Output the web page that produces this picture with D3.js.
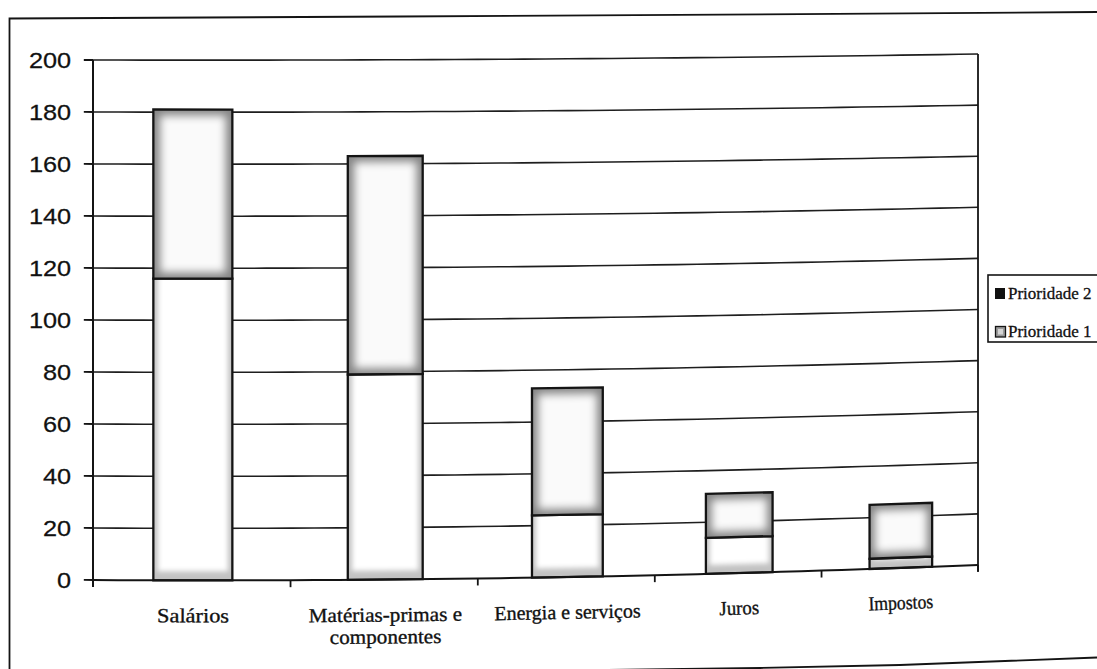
<!DOCTYPE html>
<html>
<head>
<meta charset="utf-8">
<script src="https://cdn.jsdelivr.net/npm/d3@7"></script>
<style>
  body { margin: 0; background: #fff; }
  svg { display: block; }
</style>
</head>
<body>
<svg id="chart" width="1097" height="669"></svg>
<script>
// Cost items, in the order shown on the category axis ("\n" marks a line break)
const categories = ["Salários", "Matérias-primas e\ncomponentes", "Energia e serviços", "Juros", "Impostos"];
// Number of answers per priority (stacked: Prioridade 1 at the bottom)
const prioridade1 = [116, 79, 24, 14, 4];
const prioridade2 = [65, 84, 49, 17, 21];
const legendNames = ["Prioridade 2", "Prioridade 1"];
const yTicks = [0, 20, 40, 60, 80, 100, 120, 140, 160, 180, 200];

const svg = d3.select("#chart");
const ink = "#141414";

// Plot frame in page coordinates
const plot = { left: 93, top: 60, width: 885, height: 520 };

// The printed page is slightly curled: columns get narrower towards the right
// and the horizontal rules rise gently. warp() maps flat chart coordinates to the page.
function warpX(xf) {
  const t = xf / plot.width;
  return plot.left + plot.width * (1.145 * t - 0.145 * t * t);
}
function slopeX(xf) {
  const t = xf / plot.width;
  return 1.145 - 0.29 * t;
}
function bend(X) {
  const u = X - plot.left;
  return 0.00604 * u - 2.6e-5 * u * u;
}
function P(xf, yf) {
  const X = warpX(xf);
  const v = yf / plot.height;
  return [X, plot.top + yf + (0.4 + 0.6 * v) * bend(X)];
}
function poly(pts) {
  return "M" + pts.map(p => p[0].toFixed(2) + "," + p[1].toFixed(2)).join("L") + "Z";
}
function quad(x0, x1, y0, y1) {
  return poly([P(x0, y0), P(x1, y0), P(x1, y1), P(x0, y1)]);
}
const curve = d3.line().x(d => d[0]).y(d => d[1]);
function hline(yf, x0, x1) {
  const n = 40, pts = [];
  for (let i = 0; i <= n; i++) pts.push(P(x0 + (x1 - x0) * i / n, yf));
  return curve(pts);
}
// Angle of the page's horizontal direction at a given flat point
function tiltAt(xf, yf) {
  const a = P(xf - 2, yf), b = P(xf + 2, yf);
  return Math.atan2(b[1] - a[1], b[0] - a[0]) * 180 / Math.PI;
}

const x = d3.scaleBand()
  .domain(categories)
  .range([0, plot.width])
  .paddingInner(0.6)
  .paddingOuter(0.3);

const y = d3.scaleLinear().domain([0, 200]).range([plot.height, 0]);

const table = categories.map((c, i) => ({ cat: c, p1: prioridade1[i], p2: prioridade2[i] }));
const stacked = d3.stack().keys(["p1", "p2"])(table);

const defs = svg.append("defs");
function blurFilter(id, sd) {
  defs.append("filter").attr("id", id)
    .attr("filterUnits", "userSpaceOnUse")
    .attr("x", 0).attr("y", 0).attr("width", 1097).attr("height", 669)
    .append("feGaussianBlur").attr("stdDeviation", sd);
}
blurFilter("soft", 4.5);
blurFilter("softSmall", 2.5);

// Outer frame of the figure
svg.append("path")
  .attr("d", "M9.5,676 L9.5,18.5 L400,16.5 L800,14.2 L1097,12")
  .attr("fill", "none").attr("stroke", ink).attr("stroke-width", 1.8);
svg.append("path")
  .attr("d", "M520,671 L760,668 L900,665 L1097,657.5")
  .attr("fill", "none").attr("stroke", ink).attr("stroke-width", 1.8);

const g = svg.append("g");

// Horizontal gridlines
g.selectAll(".grid")
  .data(yTicks.filter(v => v > 0))
  .join("path")
  .attr("class", "grid")
  .attr("d", v => hline(y(v), 0, plot.width))
  .attr("fill", "none")
  .attr("stroke", "#1e1e1e")
  .attr("stroke-width", 1.6);

// Right edge of the plot area
g.append("path")
  .attr("d", curve([P(plot.width, 0), P(plot.width, plot.height + 7)]))
  .attr("stroke", ink).attr("stroke-width", 1.8).attr("fill", "none");

// Stacked bars
let clipN = 0;
stacked.forEach((layer, li) => {
  layer.forEach((d, ci) => {
    const x0 = x(d.data.cat), x1 = x0 + x.bandwidth();
    const yTop = y(d[1]), yBot = y(d[0]);
    const shape = quad(x0, x1, yTop, yBot);
    const id = "seg" + (clipN++);
    defs.append("clipPath").attr("id", id).append("path").attr("d", shape);
    const seg = g.append("g").attr("clip-path", `url(#${id})`);
    if (li === 1) {
      // Prioridade 2: grey screen that lightens towards the middle
      seg.append("path").attr("d", shape).attr("fill", "#858585");
      seg.append("path").attr("d", quad(x0 + 6, x1 - 6, yTop + 6, yBot - 6))
        .attr("fill", "#fafafa").attr("filter", "url(#soft)");
    } else {
      // Prioridade 1: white with a light grey fringe at its foot
      seg.append("path").attr("d", shape).attr("fill", "#c2c2c2");
      seg.append("path").attr("d", quad(x0 + 4, x1 - 4, yTop - 30, yBot - 9))
        .attr("fill", "#ffffff").attr("filter", "url(#softSmall)");
    }
    g.append("path").attr("d", shape)
      .attr("fill", "none").attr("stroke", ink).attr("stroke-width", 2.3)
      .attr("stroke-linejoin", "miter");
  });
});

// Category axis with its tick marks between groups
g.append("path")
  .attr("d", hline(plot.height, 0, plot.width))
  .attr("fill", "none").attr("stroke", ink).attr("stroke-width", 2);
const bounds = d3.range(categories.length + 1).map(k => k * x.step());
g.selectAll(".xtick")
  .data(bounds)
  .join("path")
  .attr("class", "xtick")
  .attr("d", b => curve([P(b, plot.height), P(b, plot.height + 7)]))
  .attr("stroke", ink).attr("stroke-width", 1.8);

// Value axis
g.append("path")
  .attr("d", curve([P(0, 0), P(0, plot.height + 7)]))
  .attr("stroke", ink).attr("stroke-width", 2).attr("fill", "none");
g.selectAll(".ytick")
  .data(yTicks)
  .join("path")
  .attr("class", "ytick")
  .attr("d", v => curve([P(-8, y(v)), P(0, y(v))]))
  .attr("stroke", ink).attr("stroke-width", 1.8);
g.selectAll(".ylabel")
  .data(yTicks)
  .join("text")
  .attr("class", "ylabel")
  .attr("transform", v => { const p = P(-19, y(v)); return `translate(${p[0]},${p[1]}) scale(${slopeX(-19)},1)`; })
  .attr("dy", "0.36em")
  .attr("text-anchor", "end")
  .attr("font-family", "Liberation Sans, Arial, sans-serif")
  .attr("font-size", 22)
  .attr("fill", "#111")
  .attr("stroke", "#111")
  .attr("stroke-width", 0.25)
  .text(v => v);

// Category labels
const labelOffset = 42;
const labels = g.selectAll(".xlabel")
  .data(categories)
  .join("text")
  .attr("class", "xlabel")
  .attr("transform", c => {
    const cx = x(c) + x.bandwidth() / 2;
    const p = P(cx, plot.height + labelOffset);
    return `translate(${p[0]},${p[1]}) rotate(${tiltAt(cx, plot.height + labelOffset)}) scale(${slopeX(cx)},1)`;
  })
  .attr("text-anchor", "middle")
  .attr("font-family", "Liberation Serif, 'Times New Roman', serif")
  .attr("font-size", 20)
  .attr("fill", "#111")
  .attr("stroke", "#111")
  .attr("stroke-width", 0.35);
labels.each(function (c) {
  d3.select(this).selectAll("tspan")
    .data(c.split("\n"))
    .join("tspan")
    .attr("x", 0)
    .attr("dy", (d, i) => i === 0 ? 0 : 22)
    .text(d => d);
});

// Legend
const legend = svg.append("g");
legend.append("rect")
  .attr("x", 988).attr("y", 275).attr("width", 130).attr("height", 67)
  .attr("fill", "#fff").attr("stroke", ink).attr("stroke-width", 1.6);
const legendY = d3.scalePoint().domain(legendNames).range([293.5, 331.5]);
legendNames.forEach(name => {
  const cy = legendY(name);
  const sw = legend.append("g");
  if (name === "Prioridade 2") {
    sw.append("rect").attr("x", 995).attr("y", cy - 5.5).attr("width", 10).attr("height", 11)
      .attr("fill", "#111");
  } else {
    sw.append("rect").attr("x", 995.5).attr("y", cy - 5).attr("width", 10).attr("height", 10.5)
      .attr("fill", "#9a9a9a").attr("stroke", ink).attr("stroke-width", 1.3);
    sw.append("rect").attr("x", 998).attr("y", cy - 2.5).attr("width", 5).attr("height", 5.5)
      .attr("fill", "#d4d4d4");
  }
  legend.append("text")
    .attr("x", 1008).attr("y", cy + 5.5)
    .attr("font-family", "Liberation Serif, 'Times New Roman', serif")
    .attr("font-size", 17)
    .attr("fill", "#111")
    .attr("stroke", "#111")
    .attr("stroke-width", 0.3)
    .text(name);
});
</script>
</body>
</html>
